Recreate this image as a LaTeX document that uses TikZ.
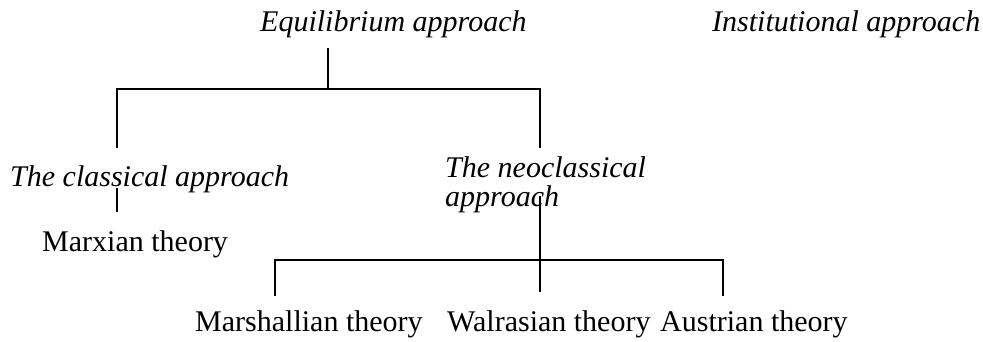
\documentclass[tikz,border=0pt]{standalone}
\usepackage{fontspec}
\setmainfont{Liberation Serif}
\begin{document}
\begin{tikzpicture}[x=1pt,y=-1pt,
  lbl/.style={anchor=base west,inner sep=0pt,font=\fontsize{30}{29}\selectfont},
  ilbl/.style={lbl,font=\fontsize{30}{29}\selectfont\itshape},
  conn/.style={line width=2.5pt,line cap=butt,line join=miter}]
\useasboundingbox (0,0) rectangle (983,341);
% labels
\node[ilbl] (eq) at (260,31) {Equilibrium approach};
\node[ilbl] (inst) at (712,31) {Institutional approach};
\node[ilbl] (cla) at (10,186) {The classical approach};
\node[ilbl,align=left] (neo) at (445,206) {The neoclassical\\approach};
\node[lbl] (marx) at (42,251) {Marxian theory};
\node[lbl] (mars) at (195,331) {Marshallian theory};
\node[lbl] (walr) at (447,331) {Walrasian theory};
\node[lbl] (aust) at (660,331) {Austrian theory};
% junction points
\coordinate (e0) at (328,48);
\coordinate (e1) at (328,89);
\coordinate (l0) at (117,89);
\coordinate (l1) at (117,148);
\coordinate (r0) at (540,89);
\coordinate (r1) at (540,148);
\coordinate (c0) at (117,188);
\coordinate (c1) at (117,212);
\coordinate (n0) at (540,196);
\coordinate (n1) at (540,292);
\coordinate (h0) at (275,260);
\coordinate (h1) at (275,296);
\coordinate (a0) at (723,260);
\coordinate (a1) at (723,296);
\draw[conn] (e0) -- (e1);
\draw[conn] (l1) -- (l0) -- (r0) -- (r1);
\draw[conn] (c0) -- (c1);
\draw[conn] (n0) -- (n1);
\draw[conn] (h1) -- (h0) -- (a0) -- (a1);
\end{tikzpicture}
\end{document}
